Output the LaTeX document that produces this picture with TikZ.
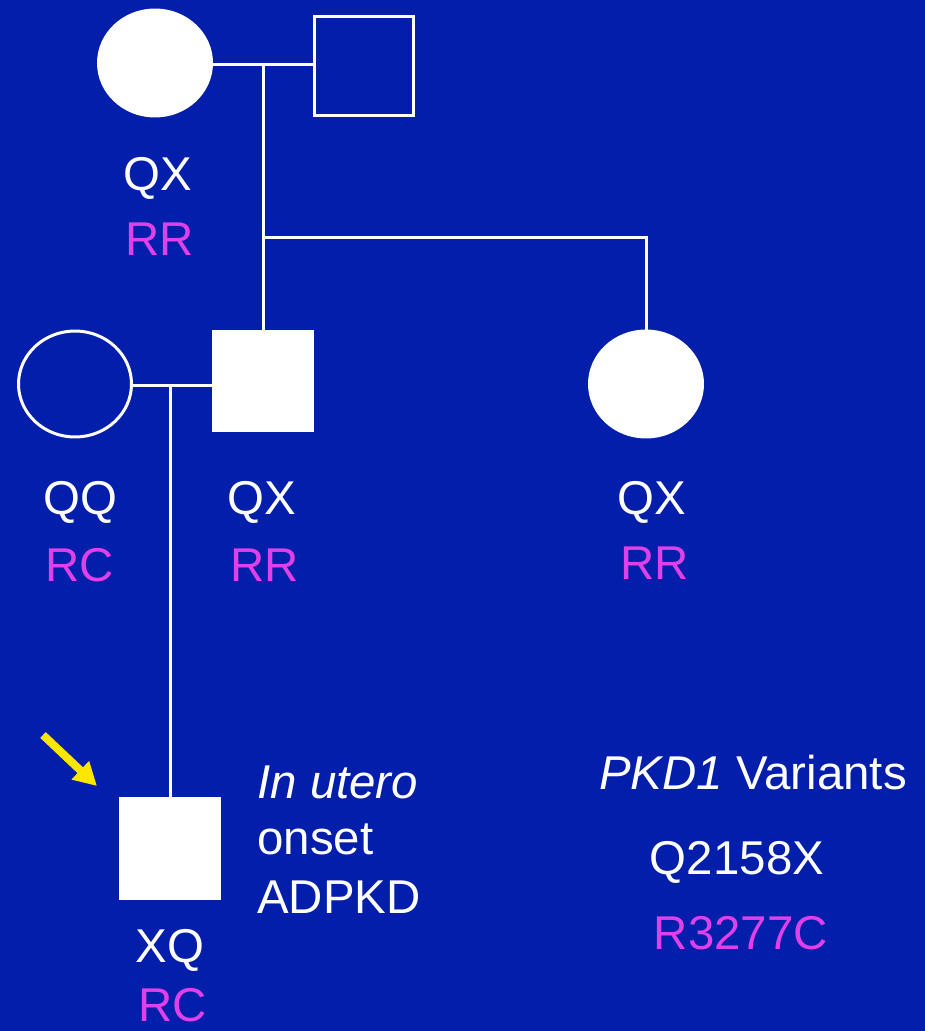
\documentclass[tikz,border=0pt]{standalone}
\usepackage{fontspec}
\setmainfont{Liberation Sans}
\usepackage{xcolor}
\usepackage{tikz}
\usetikzlibrary{shapes.geometric, arrows.meta, positioning}
\definecolor{slide}{RGB}{3,30,170}
\definecolor{allelecol}{RGB}{224,64,232}
\definecolor{pointer}{RGB}{255,230,0}
\tikzstyle{female} = [ellipse, minimum width=2.26cm, minimum height=2.12cm, draw=white, line width=0.06cm, inner sep=0pt]
\tikzstyle{male} = [rectangle, minimum size=2.0cm, draw=white, line width=0.06cm, inner sep=0pt]
\tikzstyle{link} = [white, line width=0.06cm]
\tikzstyle{geno} = [text=white, anchor=base, inner sep=0pt]
\tikzstyle{allele} = [text=allelecol, anchor=base, inner sep=0pt]
\tikzstyle{arrow} = [pointer, line width=0.16cm, -{Triangle[length=0.46cm, width=0.48cm]}]

\begin{document}
\begin{tikzpicture}[x=0.02cm, y=-0.02cm, every node/.style={font=\fontsize{27}{32}\selectfont}]
    % Background
    \useasboundingbox (0,0) rectangle (924,1031);
    \fill[slide] (-10,-10) rectangle (934,1041);

    % Grandparents
    \node[female, fill=white] (gmother) at (155,63) {};
    \node[male] (gfather) at (364,66) {};
    \node[geno] (gmotherA) at (158,190) {QX};
    \node[allele] (gmotherB) at (160,255) {RR};

    % Second generation
    \node[female] (mother) at (75,384) {};
    \node[male, fill=white] (father) at (263,381) {};
    \node[female, fill=white] (aunt) at (646,384) {};
    \node[geno] (motherA) at (80,514) {QQ};
    \node[allele] (motherB) at (80,581) {RC};
    \node[geno] (fatherA) at (262,514) {QX};
    \node[allele] (fatherB) at (265,581) {RR};
    \node[geno] (auntA) at (652,514) {QX};
    \node[allele] (auntB) at (655,579) {RR};

    % Proband
    \node[male, fill=white] (proband) at (170,848) {};
    \node[geno] (probandA) at (170,962) {XQ};
    \node[allele] (probandB) at (173,1021) {RC};
    \coordinate (tail) at (43,735);
    \coordinate (tip) at (97,786);
    \draw[arrow] (tail) -- (tip);

    % Lines of descent
    \coordinate (top) at (263,64);
    \coordinate (sib) at (263,237);
    \draw[link] (top -| gmother.east) -- (top -| gfather.west);
    \draw[link] (top) -- (father.north);
    \draw[link] (sib) -| (aunt.north);
    \coordinate (mid) at (170,385);
    \draw[link] (mid -| mother.east) -- (mid -| father.west);
    \draw[link] (mid) -- (proband.north);

    % Notes
    \node[geno, anchor=base west] (note1) at (257,798) {\itshape In utero};
    \node[geno, anchor=base west] (note2) at (257,854) {onset};
    \node[geno, anchor=base west] (note3) at (257,913) {ADPKD};
    \node[geno] (varTitle) at (753,789) {\textit{PKD1} Variants};
    \node[geno] (var1) at (737,874) {Q2158X};
    \node[allele] (var2) at (741,949) {R3277C};
\end{tikzpicture}
\end{document}
